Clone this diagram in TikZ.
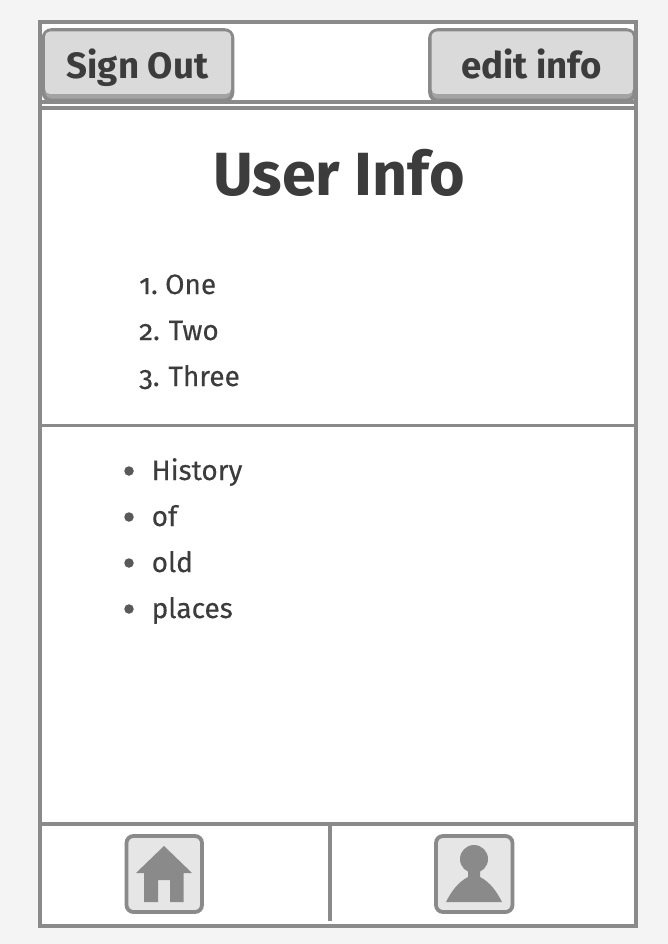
\documentclass[tikz,border=0pt]{standalone}
\usepackage{fontspec}
\setmainfont[Numbers=OldStyle]{Fira Sans}
\definecolor{pagebg}{HTML}{F4F4F4}
\definecolor{linegray}{HTML}{8A8A8A}
\definecolor{btnfill}{HTML}{DADADA}
\definecolor{btnedge}{HTML}{A3A3A3}
\definecolor{iconfill}{HTML}{E6E6E6}
\definecolor{ink}{HTML}{3C3C3C}
\tikzset{
  x=1pt,y=-1pt,
  rule/.style={draw=linegray,line width=4pt},
  thinrule/.style={draw=linegray,line width=3.6pt},
  btnlabel/.style={text=ink,font=\fontsize{36.6}{40}\selectfont\bfseries,inner sep=0pt,anchor=base},
  listtext/.style={text=ink,font=\fontsize{28}{32}\selectfont\addfontfeature{FakeBold=0.25},inner sep=0pt,anchor=base west},
  iconbox/.style={draw=linegray,line width=3.8pt,fill=iconfill,rounded corners=7pt},
  btnbox/.style={draw=linegray,line width=3.6pt,fill=btnedge,rounded corners=8pt},
  glyph/.style={fill=linegray,draw=none},
  bullet/.style={circle,fill=ink!85,draw=none,inner sep=0pt,minimum size=9.5pt}
}
\begin{document}
\begin{tikzpicture}
\useasboundingbox (0,0) rectangle (668,944);
\fill[pagebg] (0,0) rectangle (668,944);
\draw[rule,fill=white] (40,22) rectangle (636,926);
% header rules
\draw[thinrule] (42,102) -- (634,102);
\draw[thinrule] (42,108) -- (634,108);
\draw[thinrule] (42,425.5) -- (634,425.5);
\draw[thinrule] (42,824) -- (634,824);
\draw[thinrule] (330,826) -- (330,921);
% buttons
\draw[btnbox] (43.5,30) rectangle (232.5,100.5);
\fill[btnfill,rounded corners=5pt] (45,31.5) rectangle (231,94);
\draw[btnbox] (430,30) rectangle (634.5,100.5);
\fill[btnfill,rounded corners=5pt] (431.5,31.5) rectangle (633,94);
\node[btnlabel] (signout) at (137.5,79) {Sign Out};
\node[btnlabel] (editinfo) at (531.5,79) {edit info};
% title
\node[text=ink,font=\fontsize{61}{66}\selectfont\bfseries,inner sep=0pt,anchor=base] (title) at (339,196) {User Info};
% numbered
\node[listtext] (n1) at (139,294) {1.\hspace{-2.5pt} One};
\node[listtext] (n2) at (139,340) {2.\hspace{-1pt} Two};
\node[listtext] (n3) at (139,386) {3.\hspace{-1pt} Three};
% bullets
\node[bullet] (b1) at (129,471) {};
\node[bullet] (b2) at (129,517) {};
\node[bullet] (b3) at (129,563) {};
\node[bullet] (b4) at (129,609) {};
\node[listtext] (h1) at (151.5,480) {History};
\node[listtext] (h2) at (151.5,526) {of};
\node[listtext] (h3) at (151.5,572) {old};
\node[listtext] (h4) at (151.5,618) {places};
% icons
\draw[iconbox] (126.5,836) rectangle (202,912);
\fill[glyph] (164,846) -- (192,873) -- (183.5,873) -- (183.5,902) -- (170,902) -- (170,880) -- (158,880) -- (158,902) -- (144,902) -- (144,873) -- (136,873) -- cycle;
\draw[iconbox] (436,836) rectangle (512.5,912);
\fill[glyph] (474,859) circle[radius=14pt];
\fill[glyph] (446,902) .. controls (451,892) and (458,882) .. (468,877) -- (468,870) -- (480,870) -- (480,877) .. controls (490,882) and (497,892) .. (502,902) -- cycle;
\end{tikzpicture}
\end{document}
